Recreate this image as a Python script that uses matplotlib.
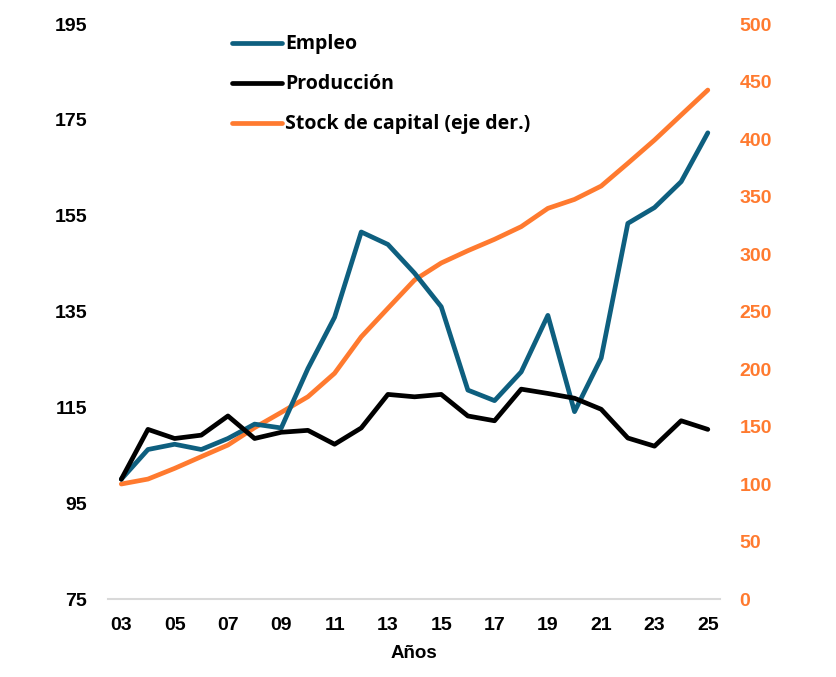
import numpy as np
import matplotlib
matplotlib.use('Agg')
import matplotlib.pyplot as plt

years = np.arange(3, 26)
year_labels = [f'{y:02d}' for y in range(3, 26, 2)]

empleo = [100, 106.2, 107.3, 106.2, 108.5, 111.5, 110.7, 123.1, 133.8, 151.6,
          149.0, 143.0, 136.0, 118.6, 116.4, 122.4, 134.2, 114.1, 125.3, 153.4,
          156.7, 162.1, 172.3]
produccion = [100, 110.4, 108.5, 109.2, 113.2, 108.5, 109.8, 110.2, 107.3, 110.7,
              117.7, 117.2, 117.7, 113.2, 112.2, 118.8, 117.9, 116.9, 114.6, 108.6,
              106.9, 112.2, 110.4]
stock_capital = [100, 104.3, 113.6, 123.8, 133.9, 149.0, 162.3, 175.9, 196.3, 228.0,
                 252.8, 277.4, 292.2, 302.9, 312.8, 323.8, 339.7, 347.5, 359.1, 378.9,
                 399.1, 420.9, 442.6]

TEAL = '#0E5F7F'
ORANGE = '#FF7A2F'

plt.rcParams['font.family'] = ['Liberation Sans', 'DejaVu Sans']

fig = plt.figure(figsize=(8.37, 6.77), dpi=100)
ax = fig.add_axes([0.129, 0.1152, 0.731, 0.8493])
ax2 = ax.twinx()

l1, = ax.plot(years, empleo, color=TEAL, lw=3.4, solid_capstyle='round', label='Empleo')
l2, = ax.plot(years, produccion, color='black', lw=3.4, solid_capstyle='round', label='Producción')
l3, = ax2.plot(years, stock_capital, color=ORANGE, lw=3.4, solid_capstyle='round',
               label='Stock de capital (eje der.)')
ax.set_zorder(ax2.get_zorder() + 1)
ax.patch.set_visible(False)

ax.set_xlim(2.5, 25.45)
ax.set_ylim(75, 195)
ax.set_yticks(range(75, 196, 20))
ax2.set_ylim(0, 500)
ax2.set_yticks(range(0, 501, 50))
ax.set_xticks(range(3, 26, 2))
ax.set_xticklabels(year_labels)

for a in (ax, ax2):
    for s in a.spines.values():
        s.set_visible(False)
ax.spines['bottom'].set_visible(True)
ax.spines['bottom'].set_color('#D9D9D9')
ax.spines['bottom'].set_linewidth(1.5)

ax.tick_params(axis='y', length=0, pad=15, labelsize=14)
ax.tick_params(axis='x', length=0, pad=13, labelsize=14)
ax2.tick_params(axis='y', length=0, pad=14, labelsize=14, labelcolor=ORANGE)
for lab in ax.get_xticklabels() + ax.get_yticklabels() + ax2.get_yticklabels():
    lab.set_fontweight('bold')

ax.set_xlabel('Años', fontsize=13.5, fontweight='bold', labelpad=8)

leg = ax.legend(handles=[l1, l2, l3], loc='upper left', bbox_to_anchor=(0.256, 0.975),
                bbox_transform=fig.transFigure, frameon=False, handlelength=2.6,
                handletextpad=0.15, labelspacing=1.03,
                prop={'family': 'Open Sans', 'weight': 'bold', 'size': 14})

fig.savefig('out.png', dpi=100)
